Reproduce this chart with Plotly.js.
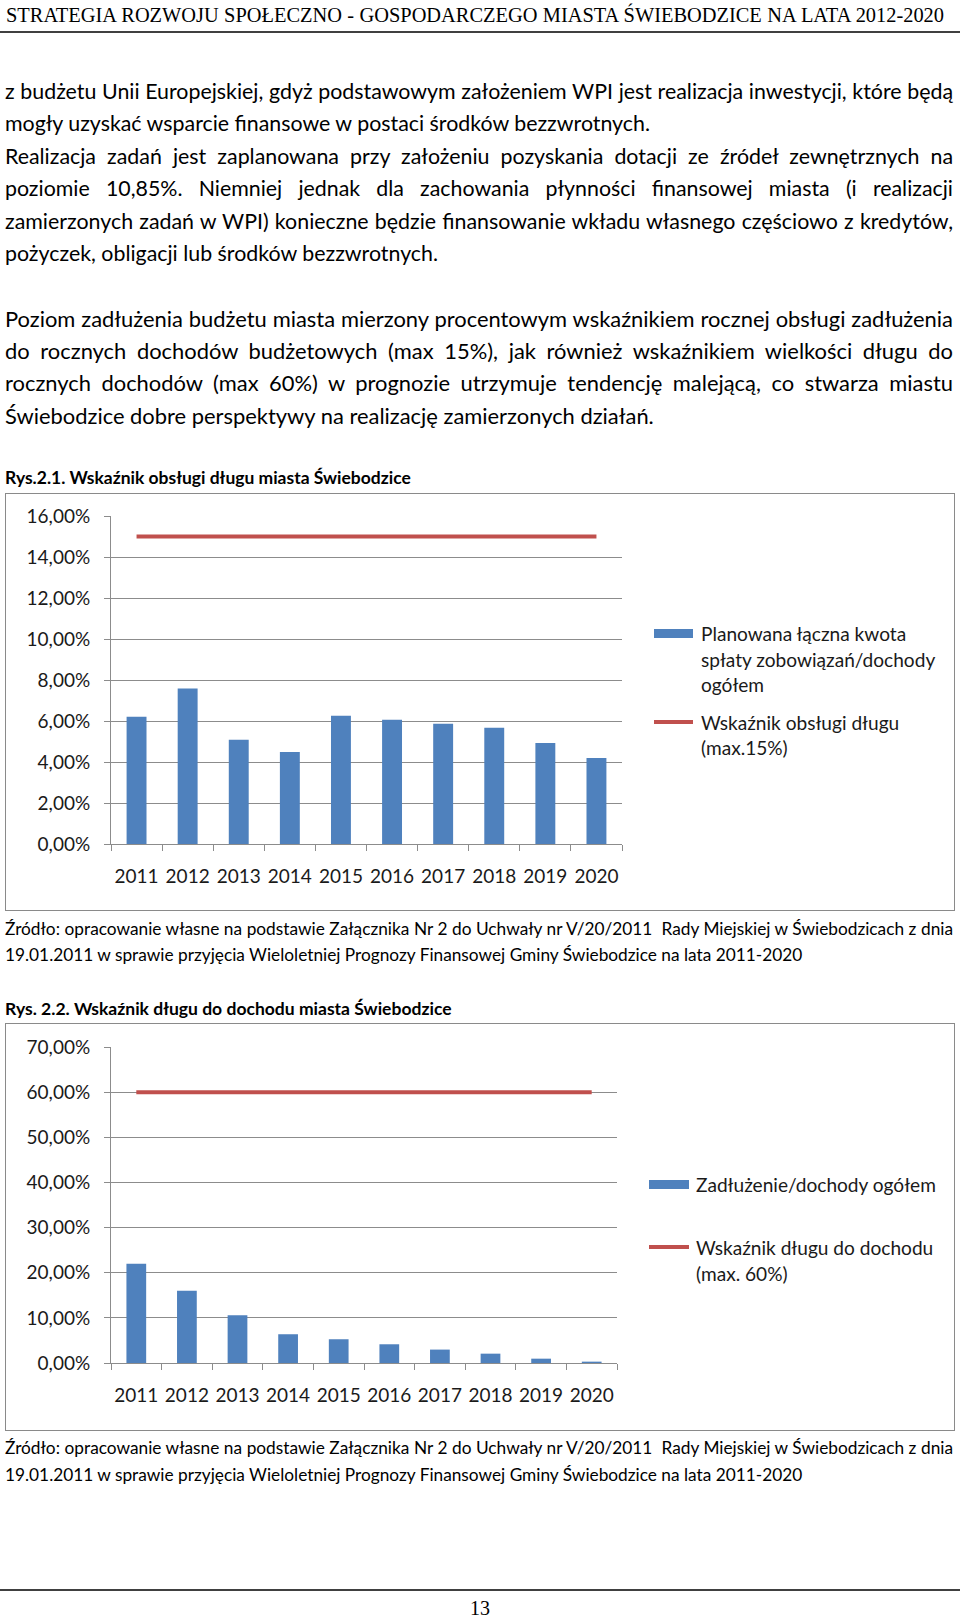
<!DOCTYPE html>
<html><head><meta charset="utf-8">
<script src="https://cdn.plot.ly/plotly-3.0.1.min.js"></script>
<style>
html,body{margin:0;padding:0;background:#fff;}
body{width:960px;height:1617px;position:relative;overflow:hidden;color:#000;}
.ln{position:absolute;white-space:nowrap;}
.rule{position:absolute;left:0;width:960px;background:#404040;}
.frame{position:absolute;border:1.5px solid #8a8a8a;box-sizing:border-box;}
.chart{position:absolute;left:0;width:960px;}
</style></head><body>
<div class="rule" style="top:31px;height:2px;"></div>
<div class="rule" style="top:1589px;height:2px;"></div>
<div class="frame" style="left:5px;top:493px;width:950px;height:418px;"></div>
<div class="frame" style="left:5px;top:1023px;width:950px;height:408px;"></div>
<div id="chart1" class="chart" style="top:480px;height:444px;"></div>
<div id="chart2" class="chart" style="top:1025px;height:420px;"></div>
<script>
// ---------- chart data ----------
const years = ["2011","2012","2013","2014","2015","2016","2017","2018","2019","2020"];
const debtServiceRatio = [6.21, 7.59, 5.09, 4.49, 6.26, 6.06, 5.87, 5.67, 4.93, 4.20];
const debtServiceLimit = [15, 15, 15, 15, 15, 15, 15, 15, 15, 15];
const debtToIncome = [21.98, 15.98, 10.60, 6.37, 5.26, 4.15, 2.97, 2.07, 0.96, 0.30];
const debtToIncomeLimit = [60, 60, 60, 60, 60, 60, 60, 60, 60, 60];
const legend1Bar = ["Planowana łączna kwota", "spłaty zobowiązań/dochody", "ogółem"];
const legend1Line = ["Wskaźnik obsługi długu", "(max.15%)"];
const legend2Bar = ["Zadłużenie/dochody ogółem"];
const legend2Line = ["Wskaźnik długu do dochodu", "(max. 60%)"];

// ---------- page text ----------
const headerText = "STRATEGIA ROZWOJU SPOŁECZNO - GOSPODARCZEGO MIASTA ŚWIEBODZICE NA LATA 2012-2020";
const para1 = [
  ["z budżetu Unii Europejskiej, gdyż podstawowym założeniem WPI jest realizacja inwestycji, które będą", 1],
  ["mogły uzyskać wsparcie finansowe w postaci środków bezzwrotnych.", 0],
  ["Realizacja zadań jest zaplanowana przy założeniu pozyskania dotacji ze źródeł zewnętrznych na", 1],
  ["poziomie 10,85%. Niemniej jednak dla zachowania płynności finansowej miasta (i realizacji", 1],
  ["zamierzonych zadań w WPI) konieczne będzie finansowanie wkładu własnego częściowo z kredytów,", 1],
  ["pożyczek, obligacji lub środków bezzwrotnych.", 0]
];
const para2 = [
  ["Poziom zadłużenia budżetu miasta mierzony procentowym wskaźnikiem rocznej obsługi zadłużenia", 1],
  ["do rocznych dochodów budżetowych (max 15%), jak również wskaźnikiem wielkości długu do", 1],
  ["rocznych dochodów (max 60%) w prognozie utrzymuje tendencję malejącą, co stwarza miastu", 1],
  ["Świebodzice dobre perspektywy na realizację zamierzonych działań.", 0]
];
const caption1 = "Rys.2.1. Wskaźnik obsługi długu miasta Świebodzice";
const caption2 = "Rys. 2.2. Wskaźnik długu do dochodu miasta Świebodzice";
const source = [
  ["Źródło: opracowanie własne na podstawie Załącznika Nr 2 do Uchwały nr V/20/2011\u00a0 Rady Miejskiej w Świebodzicach z dnia", 1],
  ["19.01.2011 w sprawie przyjęcia Wieloletniej Prognozy Finansowej Gminy Świebodzice na lata 2011-2020", 0]
];
const pageNumber = "13";

function block(lines, ys, o) {
  const divs = lines.map(function (l) {
    const d = document.createElement('div');
    d.className = 'ln';
    d.textContent = l[0];
    d.style.fontFamily = o.family;
    d.style.fontWeight = o.weight || 'normal';
    d.style.fontSize = '20px';
    document.body.appendChild(d);
    return d;
  });
  let ratio = Infinity;
  divs.forEach(function (d, i) {
    const w = d.getBoundingClientRect().width;
    if (lines[i][1] || o.fitAll) ratio = Math.min(ratio, o.width / w);
  });
  const F = 20 * ratio * 0.998;
  divs.forEach(function (d, i) {
    const lh = 30;
    d.style.fontSize = F + 'px';
    d.style.lineHeight = lh + 'px';
    d.style.top = (ys[i] - lh / 2) + 'px';
    d.style.left = o.left + 'px';
    if (lines[i][1]) {
      d.style.width = o.width + 'px';
      d.style.textAlign = 'justify';
      d.style.textAlignLast = 'justify';
    }
  });
}

function drawText() {
  const body = "Lato, 'Noto Sans', sans-serif";
  block([[headerText, 1]], [15], {family: "'Liberation Serif', serif", left: 6, width: 938});
  block(para1, [91, 123, 155.5, 188, 220.5, 252.5], {family: body, left: 5, width: 948});
  block(para2, [319, 351, 383, 415.5], {family: body, left: 5, width: 948});
  block([[caption1, 0]], [477.5], {family: body, weight: 'bold', left: 5, width: 407, fitAll: true});
  block(source, [928.5, 955], {family: body, left: 5, width: 948});
  block([[caption2, 0]], [1008.5], {family: body, weight: 'bold', left: 5, width: 448, fitAll: true});
  block(source, [1448, 1474.5], {family: body, left: 5, width: 948});
  const p = document.createElement('div');
  p.className = 'ln';
  p.textContent = pageNumber;
  p.style.fontFamily = "'Liberation Serif', serif";
  p.style.fontSize = '20px';
  p.style.lineHeight = '24px';
  p.style.top = (1608 - 12) + 'px';
  p.style.left = '0px';
  p.style.width = '960px';
  p.style.textAlign = 'center';
  document.body.appendChild(p);
}

// ---------- charts ----------
const BLUE = '#4f81bd', RED = '#c0504d', GRID = '#8c8c8c', TXT = '#1a1a1a';
const TICKSIZE = 19, LEGSIZE = 19.1;

function makeChart(id, cfg, bars, limit, ymax, dtick, legBar, legLine, leg) {
  const plotL = cfg.l, plotR = 960 - cfg.r, plotT = cfg.top + cfg.t, plotB = cfg.top + cfg.h - cfg.b;
  const px = function (X) { return (X - plotL) / (plotR - plotL); };
  const py = function (Y) { return (plotB - Y) / (plotB - plotT); };
  const shapes = [
    {type: 'rect', xref: 'paper', yref: 'paper', x0: px(leg.sx0), x1: px(leg.sx1), y0: py(leg.by0), y1: py(leg.by1),
     fillcolor: BLUE, line: {width: 0}},
    {type: 'line', xref: 'paper', yref: 'paper', x0: px(leg.sx0), x1: px(leg.sx1), y0: py(leg.ly), y1: py(leg.ly),
     line: {color: RED, width: 4}}
  ];
  const ann = [];
  legBar.forEach(function (t, i) {
    ann.push({xref: 'paper', yref: 'paper', x: px(leg.tx), y: py(leg.barY[i]), text: t, showarrow: false,
      xanchor: 'left', yanchor: 'middle', font: {family: 'Lato', size: LEGSIZE, color: TXT}});
  });
  legLine.forEach(function (t, i) {
    ann.push({xref: 'paper', yref: 'paper', x: px(leg.tx), y: py(leg.lineY[i]), text: t, showarrow: false,
      xanchor: 'left', yanchor: 'middle', font: {family: 'Lato', size: LEGSIZE, color: TXT}});
  });
  const data = [
    {type: 'bar', x: years, y: bars, marker: {color: BLUE, line: {width: 0}}, name: legBar.join(' ')},
    {type: 'scatter', mode: 'lines', x: years, y: limit, line: {color: RED, width: 4}, name: legLine.join(' ')}
  ];
  const layout = {
    width: 960, height: cfg.h,
    margin: {l: cfg.l, r: cfg.r, t: cfg.t, b: cfg.b},
    paper_bgcolor: 'rgba(0,0,0,0)', plot_bgcolor: 'rgba(0,0,0,0)',
    separators: ',.',
    showlegend: false,
    bargap: 0.61,
    font: {family: 'Lato', size: TICKSIZE, color: TXT},
    xaxis: {type: 'category', tickson: 'boundaries', ticks: 'outside', ticklen: 6, tickcolor: GRID, tickwidth: 1,
      showline: true, linecolor: GRID, linewidth: 1, showgrid: false, zeroline: false, tickangle: 0,
      tickfont: {family: 'Lato', size: TICKSIZE, color: TXT}, ticklabelstandoff: 15},
    yaxis: {range: [0, ymax], tick0: 0, dtick: dtick, tickformat: '.2f', ticksuffix: '%',
      ticks: 'outside', ticklen: 6, tickcolor: GRID, tickwidth: 1,
      showline: true, linecolor: GRID, linewidth: 1, showgrid: true, gridcolor: GRID, gridwidth: 1, zeroline: false,
      tickfont: {family: 'Lato', size: TICKSIZE, color: TXT}, ticklabelstandoff: 10},
    shapes: shapes, annotations: ann
  };
  Plotly.newPlot(id, data, layout, {staticPlot: true, displayModeBar: false});
}

drawText();
makeChart('chart1', {top: 480, h: 444, l: 111, r: 338, t: 36, b: 80}, debtServiceRatio, debtServiceLimit, 16, 2,
  legend1Bar, legend1Line,
  {sx0: 654, sx1: 693, by0: 629, by1: 638, ly: 722, tx: 699, barY: [633, 659, 684], lineY: [722, 747]});
makeChart('chart2', {top: 1025, h: 420, l: 111, r: 343, t: 22, b: 82}, debtToIncome, debtToIncomeLimit, 70, 10,
  legend2Bar, legend2Line,
  {sx0: 649, sx1: 689, by0: 1180, by1: 1189, ly: 1247, tx: 694, barY: [1184], lineY: [1247, 1273]});
</script>
</body></html>
